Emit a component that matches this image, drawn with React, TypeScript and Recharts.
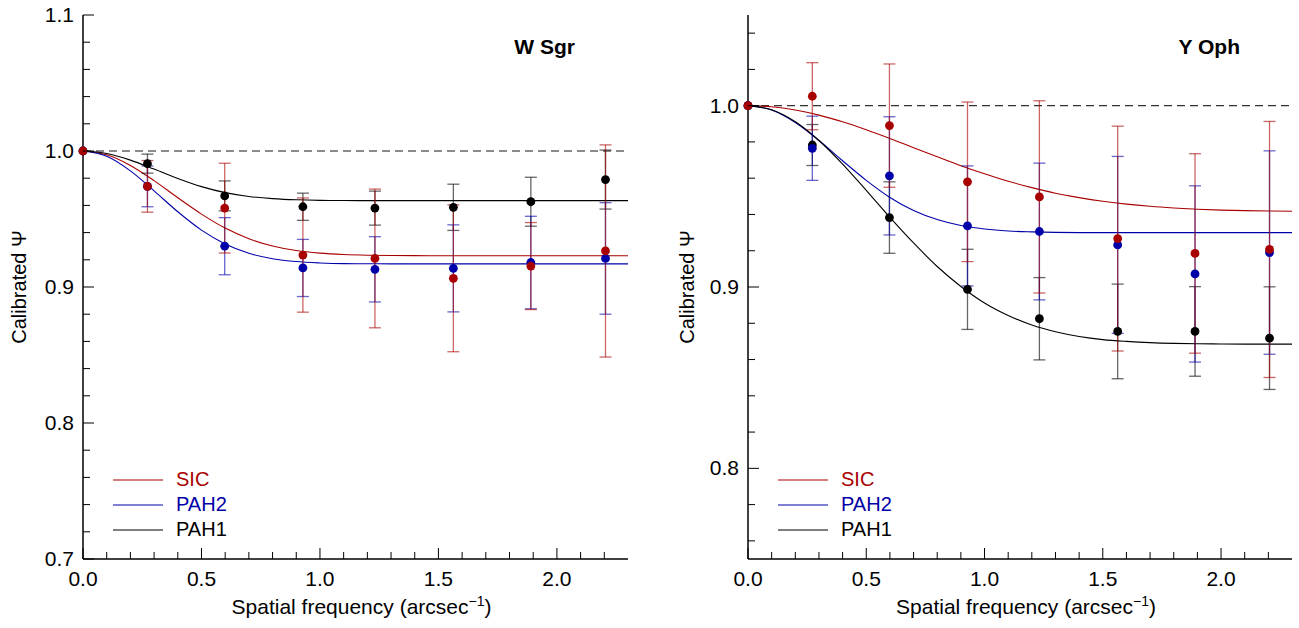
import React from 'react';
import {
  ComposedChart,
  Line,
  Scatter,
  ErrorBar,
  XAxis,
  YAxis,
  ReferenceLine,
  Legend
} from 'recharts';

const FONT = '"Liberation Sans", Arial, Helvetica, sans-serif';
const RED = '#a80000';
const BLUE = '#0000a8';
const BLACK = '#000000';

// spatial frequency of each measured point (arcsec^-1)
const freq = [0, 0.272, 0.598, 0.928, 1.232, 1.563, 1.89, 2.205];

// W Sgr measurements
const wSgrSic = [1.0, 0.974, 0.958, 0.9235, 0.921, 0.9064, 0.9154, 0.9265];
const wSgrSicErr = [0, 0.019, 0.033, 0.042, 0.051, 0.054, 0.032, 0.078];
const wSgrPah2 = [1.0, 0.974, 0.93, 0.914, 0.913, 0.9137, 0.918, 0.921];
const wSgrPah2Err = [0, 0.015, 0.021, 0.021, 0.024, 0.032, 0.034, 0.041];
const wSgrPah1 = [1.0, 0.9907, 0.967, 0.959, 0.958, 0.9586, 0.9627, 0.979];
const wSgrPah1Err = [0, 0.007, 0.011, 0.01, 0.0125, 0.017, 0.018, 0.0217];

// Y Oph measurements
const yOphSic = [1.0, 1.0052, 0.989, 0.958, 0.9497, 0.9267, 0.9185, 0.9207];
const yOphSicErr = [0, 0.0185, 0.034, 0.044, 0.053, 0.062, 0.055, 0.0706];
const yOphPah2 = [1.0, 0.9765, 0.9613, 0.9337, 0.9306, 0.9232, 0.9072, 0.919];
const yOphPah2Err = [0, 0.0177, 0.0326, 0.0331, 0.0377, 0.0488, 0.0486, 0.0561];
const yOphPah1 = [1.0, 0.9783, 0.9383, 0.8987, 0.8825, 0.8755, 0.8755, 0.8718];
const yOphPah1Err = [0, 0.0113, 0.0197, 0.0221, 0.0227, 0.0261, 0.0247, 0.0283];

const fitFreq = [
  0, 0.1, 0.2, 0.3, 0.4, 0.5, 0.6, 0.7, 0.8, 0.9, 1.0, 1.1,
  1.2, 1.3, 1.4, 1.5, 1.6, 1.7, 1.8, 1.9, 2.0, 2.1, 2.2, 2.3
];
const wSgrSicFit = [
  1.0, 0.9972, 0.9894, 0.9782, 0.9656, 0.9536, 0.9433, 0.9355, 0.9302, 0.9268, 0.9249, 0.9239,
  0.9234, 0.9232, 0.9231, 0.923, 0.923, 0.923, 0.923, 0.923, 0.923, 0.923, 0.923, 0.923
];
const wSgrPah2Fit = [
  1.0, 0.9961, 0.9854, 0.9707, 0.9553, 0.9418, 0.9316, 0.9248, 0.9208, 0.9187, 0.9177, 0.9172,
  0.9171, 0.917, 0.917, 0.917, 0.917, 0.917, 0.917, 0.917, 0.917, 0.917, 0.917, 0.917
];
const wSgrPah1Fit = [
  1.0, 0.9982, 0.9933, 0.9867, 0.9798, 0.9738, 0.9694, 0.9666, 0.965, 0.9641, 0.9637, 0.9636,
  0.9635, 0.9635, 0.9635, 0.9635, 0.9635, 0.9635, 0.9635, 0.9635, 0.9635, 0.9635, 0.9635, 0.9635
];
const yOphSicFit = [
  1.0, 0.9994, 0.9976, 0.9948, 0.9911, 0.9867, 0.9819, 0.9768, 0.9718, 0.9669, 0.9624, 0.9583,
  0.9548, 0.9517, 0.9493, 0.9473, 0.9457, 0.9445, 0.9436, 0.9429, 0.9424, 0.9421, 0.9419, 0.9418
];
const yOphPah2Fit = [
  1.0, 0.9976, 0.9907, 0.9808, 0.9696, 0.9588, 0.9494, 0.9422, 0.9372, 0.9339, 0.932, 0.9309,
  0.9304, 0.9301, 0.93, 0.93, 0.93, 0.93, 0.93, 0.93, 0.93, 0.93, 0.93, 0.93
];
const yOphPah1Fit = [
  1.0, 0.9977, 0.9911, 0.9808, 0.9678, 0.9533, 0.9384, 0.9243, 0.9113, 0.9003, 0.8912, 0.8843,
  0.879, 0.8753, 0.8727, 0.871, 0.87, 0.8693, 0.8689, 0.8687, 0.8686, 0.8685, 0.8685, 0.8685
];

const xTicks = [
  0, 0.1, 0.2, 0.3, 0.4, 0.5, 0.6, 0.7, 0.8, 0.9, 1.0, 1.1,
  1.2, 1.3, 1.4, 1.5, 1.6, 1.7, 1.8, 1.9, 2.0, 2.1, 2.2
];
const wSgrYTicks = [
  0.7, 0.72, 0.74, 0.76, 0.78, 0.8, 0.82, 0.84, 0.86, 0.88, 0.9,
  0.92, 0.94, 0.96, 0.98, 1.0, 1.02, 1.04, 1.06, 1.08, 1.1
];
const yOphYTicks = [
  0.76, 0.78, 0.8, 0.82, 0.84, 0.86, 0.88, 0.9, 0.92, 0.94, 0.96, 0.98, 1.0, 1.02, 1.04
];

const toPoints = (ys: number[], errs: number[]) =>
  freq.map((x, i) => ({ x, y: ys[i], err: errs[i] }));
const toCurve = (ys: number[]) => fitFreq.map((x, i) => ({ x, y: ys[i] }));

interface Series {
  name: string;
  color: string;
  points: { x: number; y: number; err: number }[];
  curve: { x: number; y: number }[];
}

const isMajor = (v: number, step: number) => Math.abs(v / step - Math.round(v / step)) < 1e-6;

const MAJOR = 11;
const MINOR = 7;

const BottomTick = (props: any) => {
  const { x, y, payload } = props;
  const major = isMajor(payload.value, 0.5);
  return (
    <g>
      <line x1={x} y1={y} x2={x} y2={y - (major ? MAJOR : MINOR)} stroke="#000" strokeWidth={1} />
      {major && (
        <text x={x} y={y + 27} textAnchor="middle" fontSize={21} fontFamily={FONT} fill="#000">
          {payload.value.toFixed(1)}
        </text>
      )}
    </g>
  );
};

const TopTick = (props: any) => {
  const { x, y, payload } = props;
  const major = isMajor(payload.value, 0.5);
  return <line x1={x} y1={y} x2={x} y2={y + (major ? MAJOR : MINOR)} stroke="#000" strokeWidth={1} />;
};

const LeftTick = (props: any) => {
  const { x, y, payload } = props;
  const major = isMajor(payload.value, 0.1);
  return (
    <g>
      <line x1={x} y1={y} x2={x + (major ? MAJOR : MINOR)} y2={y} stroke="#000" strokeWidth={1} />
      {major && (
        <text x={x - 9} y={y + 7} textAnchor="end" fontSize={21} fontFamily={FONT} fill="#000">
          {payload.value.toFixed(1)}
        </text>
      )}
    </g>
  );
};

const RightTick = (props: any) => {
  const { x, y, payload } = props;
  const major = isMajor(payload.value, 0.1);
  return <line x1={x} y1={y} x2={x - (major ? MAJOR : MINOR)} y2={y} stroke="#000" strokeWidth={1} />;
};

const XTitle = (props: any) => {
  const { viewBox } = props;
  return (
    <text
      x={viewBox.x + viewBox.width / 2 + 6}
      y={viewBox.y + 55}
      textAnchor="middle"
      fontSize={21}
      fontFamily={FONT}
      fill="#000"
    >
      Spatial frequency (arcsec
      <tspan dy={-8} fontSize={14}>−1</tspan>
      <tspan dy={8}>)</tspan>
    </text>
  );
};

const makeYTitle = (dx: number) => (props: any) => {
  const { viewBox } = props;
  const cx = viewBox.x + dx;
  const cy = viewBox.y + viewBox.height / 2;
  return (
    <text
      x={cx}
      y={cy}
      transform={`rotate(-90 ${cx} ${cy})`}
      textAnchor="middle"
      dominantBaseline="central"
      fontSize={20}
      fontFamily={FONT}
      fill="#000"
    >
      Calibrated Ψ
    </text>
  );
};

interface PanelProps {
  title: string;
  titleX: number;
  width: number;
  axisWidth: number;
  marginRight: number;
  yDomain: [number, number];
  yTicks: number[];
  yTitleX: number;
  legendLeft: number;
  refColor: string;
  series: Series[];
}

function Panel(p: PanelProps) {
  const frame = { stroke: '#000', strokeWidth: 1.5 };
  const legendContent = () => (
    <div style={{ fontFamily: FONT, fontSize: 20 }}>
      {p.series.map((s) => (
        <div key={s.name} style={{ display: 'flex', alignItems: 'center', height: 25 }}>
          <svg width={50} height={4} style={{ display: 'block' }}>
            <line x1={0} y1={2} x2={50} y2={2} stroke={s.color} strokeWidth={1.2} />
          </svg>
          <span style={{ color: s.color, marginLeft: 13, lineHeight: '25px' }}>{s.name}</span>
        </div>
      ))}
    </div>
  );

  return (
    <ComposedChart
      width={p.width}
      height={628}
      margin={{ top: 15, right: p.marginRight, bottom: 0, left: 0 }}
    >
      <XAxis
        xAxisId="b"
        dataKey="x"
        type="number"
        domain={[0, 2.3]}
        ticks={xTicks}
        interval={0}
        height={69}
        tickSize={0}
        tickMargin={0}
        tickLine={false}
        tick={BottomTick}
        axisLine={frame}
        label={{ content: XTitle }}
      />
      <XAxis
        xAxisId="t"
        orientation="top"
        type="number"
        domain={[0, 2.3]}
        ticks={xTicks}
        interval={0}
        height={0}
        tickSize={0}
        tickMargin={0}
        tickLine={false}
        tick={TopTick}
        axisLine={frame}
      />
      <YAxis
        yAxisId="l"
        dataKey="y"
        type="number"
        domain={p.yDomain}
        ticks={p.yTicks}
        interval={0}
        width={p.axisWidth}
        tickSize={0}
        tickMargin={0}
        tickLine={false}
        tick={LeftTick}
        axisLine={frame}
        label={{ content: makeYTitle(p.yTitleX) }}
      />
      <YAxis
        yAxisId="r"
        orientation="right"
        type="number"
        domain={p.yDomain}
        ticks={p.yTicks}
        interval={0}
        width={0}
        tickSize={0}
        tickMargin={0}
        tickLine={false}
        tick={RightTick}
        axisLine={frame}
      />

      <ReferenceLine
        xAxisId="b"
        yAxisId="l"
        y={1}
        stroke={p.refColor}
        strokeWidth={1.3}
        strokeDasharray="8 5"
      />

      {p.series.map((s) => (
        <Line
          key={`fit-${s.name}`}
          xAxisId="b"
          yAxisId="l"
          data={s.curve}
          dataKey="y"
          type="monotone"
          stroke={s.color}
          strokeWidth={1.1}
          dot={false}
          activeDot={false}
          isAnimationActive={false}
          legendType="none"
        />
      ))}

      {[...p.series].reverse().map((s) => (
        <Scatter
          key={`pts-${s.name}`}
          xAxisId="b"
          yAxisId="l"
          data={s.points}
          dataKey="y"
          fill={s.color}
          isAnimationActive={false}
          legendType="none"
          shape={(props: any) => <circle cx={props.cx} cy={props.cy} r={4.4} fill={s.color} />}
        >
          <ErrorBar
            dataKey="err"
            direction="y"
            width={6}
            stroke={s.color}
            strokeWidth={1.3}
            strokeOpacity={0.6}
          />
        </Scatter>
      ))}

      <Legend
        layout="vertical"
        align="center"
        verticalAlign="middle"
        content={legendContent}
        wrapperStyle={{ left: p.legendLeft, top: 467, width: 160, height: 80 }}
      />

      <text
        x={p.titleX}
        y={54}
        textAnchor="end"
        fontSize={21}
        fontWeight="bold"
        fontFamily={FONT}
        fill="#000"
      >
        {p.title}
      </text>
    </ComposedChart>
  );
}

const wSgrSeries: Series[] = [
  { name: 'SIC', color: RED, points: toPoints(wSgrSic, wSgrSicErr), curve: toCurve(wSgrSicFit) },
  { name: 'PAH2', color: BLUE, points: toPoints(wSgrPah2, wSgrPah2Err), curve: toCurve(wSgrPah2Fit) },
  { name: 'PAH1', color: BLACK, points: toPoints(wSgrPah1, wSgrPah1Err), curve: toCurve(wSgrPah1Fit) }
];

const yOphSeries: Series[] = [
  { name: 'SIC', color: RED, points: toPoints(yOphSic, yOphSicErr), curve: toCurve(yOphSicFit) },
  { name: 'PAH2', color: BLUE, points: toPoints(yOphPah2, yOphPah2Err), curve: toCurve(yOphPah2Fit) },
  { name: 'PAH1', color: BLACK, points: toPoints(yOphPah1, yOphPah1Err), curve: toCurve(yOphPah1Fit) }
];

export default function App() {
  return (
    <div
      style={{
        position: 'absolute',
        left: 0,
        top: 0,
        width: 1299,
        height: 628,
        background: '#fff',
        fontFamily: FONT
      }}
    >
      <div style={{ position: 'absolute', left: 0, top: 0 }}>
        <Panel
          title="W Sgr"
          titleX={575}
          width={650}
          axisWidth={83}
          marginRight={22}
          yDomain={[0.7, 1.1]}
          yTicks={wSgrYTicks}
          yTitleX={19}
          legendLeft={113}
          refColor="#666"
          series={wSgrSeries}
        />
      </div>
      <div style={{ position: 'absolute', left: 650, top: 0 }}>
        <Panel
          title="Y Oph"
          titleX={590}
          width={649}
          axisWidth={98}
          marginRight={7}
          yDomain={[0.75, 1.05]}
          yTicks={yOphYTicks}
          yTitleX={37}
          legendLeft={128}
          refColor="#333"
          series={yOphSeries}
        />
      </div>
    </div>
  );
}
